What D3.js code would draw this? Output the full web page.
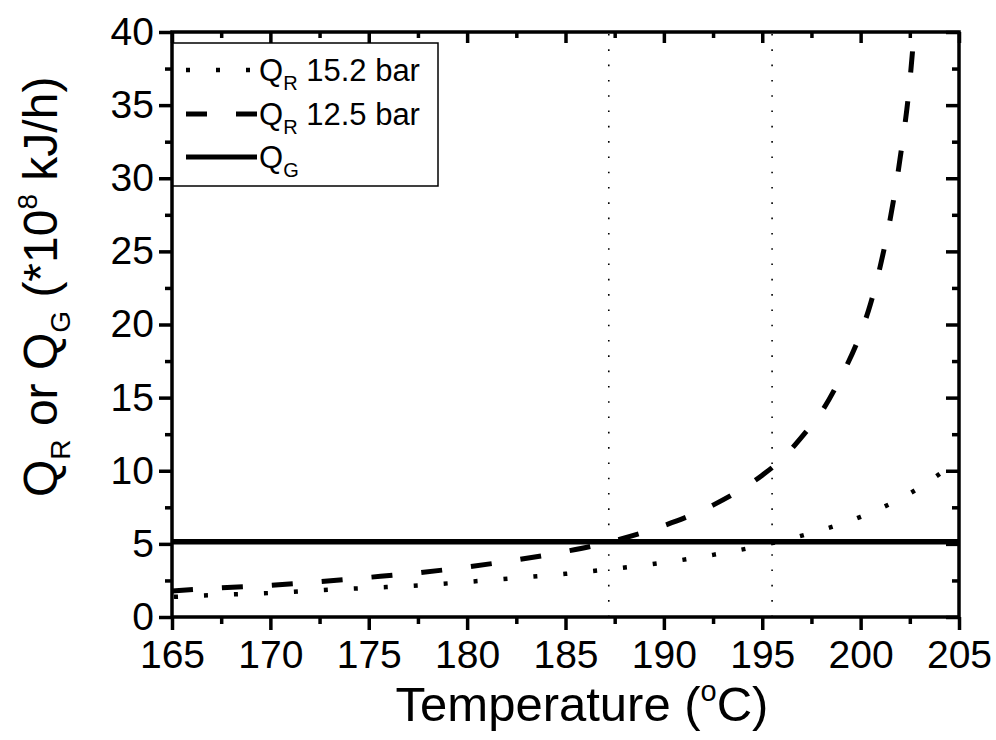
<!DOCTYPE html>
<html>
<head>
<meta charset="utf-8">
<script src="https://cdn.jsdelivr.net/npm/d3@7"></script>
<style>
  html, body { margin: 0; padding: 0; background: #fff; }
  svg { display: block; font-family: "Liberation Sans", Arial, sans-serif; }
</style>
</head>
<body>
<svg id="chart" width="996" height="740"></svg>
<script>
// Heat removal (Q_R) at two pressures and heat generation (Q_G) vs temperature
const tempDomain = [165, 205];
const qDomain = [0, 40];
const xTicks = [165, 170, 175, 180, 185, 190, 195, 200, 205];
const yTicks = [0, 5, 10, 15, 20, 25, 30, 35, 40];

const tempHigh = [165, 167.5, 170, 172.5, 175, 177.5, 180, 182.5, 185, 187.5, 190, 192.5, 195, 197.5, 200, 202.5, 205];
const qrHigh   = [1.37, 1.52, 1.64, 1.83, 1.99, 2.16, 2.40, 2.67, 2.95, 3.31, 3.72, 4.25, 4.90, 5.75, 6.85, 8.45, 10.75];

const tempLow = [165, 167.5, 170, 172.5, 175, 177.5, 180, 182.5, 185, 187.5, 190, 192.5, 195, 196, 197, 198, 199, 200, 200.5, 201, 201.5, 202, 202.5, 202.72];
const qrLow   = [1.78, 2.0, 2.17, 2.42, 2.71, 3.02, 3.42, 3.9, 4.48, 5.22, 6.25, 7.65, 9.7, 10.8, 12.3, 14.0, 16.4, 19.4, 21.4, 24.0, 27.2, 31.3, 36.6, 40];

const qGen = 5.15;
const crossTemps = [187.2, 195.5];

const legendLabels = [
  { main: "Q", sub: "R", rest: " 15.2 bar", dash: "4,26", w: 4.5 },
  { main: "Q", sub: "R", rest: " 12.5 bar", dash: "21,29", w: 5 },
  { main: "Q", sub: "G", rest: "", dash: null, w: 5 }
];

const svg = d3.select("#chart");
const L = 172, R = 959, T = 32, B = 617;

const x = d3.scaleLinear().domain(tempDomain).range([L, R]);
const y = d3.scaleLinear().domain(qDomain).range([B, T]);

const minorX = d3.range(167.5, 205, 5);
const minorY = d3.range(2.5, 40, 5);

svg.append("clipPath").attr("id", "plotclip")
  .append("rect").attr("x", L).attr("y", T).attr("width", R - L).attr("height", B - T);

const plot = svg.append("g").attr("clip-path", "url(#plotclip)");

// vertical markers at the intersection temperatures
plot.selectAll("line.cross").data(crossTemps).enter().append("line")
  .attr("class", "cross")
  .attr("x1", d => x(d)).attr("x2", d => x(d))
  .attr("y1", y(0)).attr("y2", y(40))
  .attr("stroke", "#000").attr("stroke-width", 1.6)
  .attr("stroke-dasharray", "1.6,13.7");

// heat generation line
plot.append("line")
  .attr("x1", x(tempDomain[0])).attr("x2", x(tempDomain[1]))
  .attr("y1", y(qGen)).attr("y2", y(qGen))
  .attr("stroke", "#000").attr("stroke-width", 5.5);

const line = d3.line().x(d => x(d[0])).y(d => y(d[1])).curve(d3.curveMonotoneX);

plot.append("path")
  .datum(tempLow.map((t, i) => [t, qrLow[i]]))
  .attr("d", line)
  .attr("fill", "none").attr("stroke", "#000").attr("stroke-width", 5)
  .attr("stroke-dasharray", "21,29");

plot.append("path")
  .datum(tempHigh.map((t, i) => [t, qrHigh[i]]))
  .attr("d", line)
  .attr("fill", "none").attr("stroke", "#000").attr("stroke-width", 4.5)
  .attr("stroke-dasharray", "4,26").attr("stroke-dashoffset", -2);

// frame and ticks
const axes = svg.append("g");
const frameW = 3.5;

const axisB = d3.axisBottom(x).tickValues(xTicks).tickSize(13).tickPadding(10).tickFormat(d3.format("d"));
axes.append("g").attr("transform", `translate(0,${B})`).call(axisB);
const axisL = d3.axisLeft(y).tickValues(yTicks).tickSize(13).tickPadding(5).tickFormat(d3.format("d"));
axes.append("g").attr("transform", `translate(${L},0)`).call(axisL);
const axisT = d3.axisTop(x).tickValues(xTicks).tickSize(-11).tickFormat("");
axes.append("g").attr("transform", `translate(0,${T})`).call(axisT);
const axisR = d3.axisRight(y).tickValues(yTicks).tickSize(-13).tickFormat("");
axes.append("g").attr("transform", `translate(${R},0)`).call(axisR);

// minor ticks
axes.append("g").attr("transform", `translate(0,${B})`).call(d3.axisBottom(x).tickValues(minorX).tickSize(7).tickFormat(""));
axes.append("g").attr("transform", `translate(0,${T})`).call(d3.axisTop(x).tickValues(minorX).tickSize(-6).tickFormat(""));
axes.append("g").attr("transform", `translate(${L},0)`).call(d3.axisLeft(y).tickValues(minorY).tickSize(7).tickFormat(""));
axes.append("g").attr("transform", `translate(${R},0)`).call(d3.axisRight(y).tickValues(minorY).tickSize(-7).tickFormat(""));

axes.selectAll(".domain").remove();
axes.selectAll(".tick line").attr("stroke", "#000").attr("stroke-width", 3.5);
axes.selectAll(".tick text").attr("fill", "#000").attr("font-size", 39)
  .attr("font-family", "'Liberation Sans', Arial, sans-serif");

axes.append("rect").attr("x", L).attr("y", T).attr("width", R - L).attr("height", B - T)
  .attr("fill", "none").attr("stroke", "#000").attr("stroke-width", frameW);

// legend
const lg = svg.append("g");
lg.append("rect").attr("x", L + 1).attr("y", 43).attr("width", 438 - L - 1).attr("height", 143)
  .attr("fill", "#fff").attr("stroke", "#000").attr("stroke-width", 1.5);
const rowY = [70, 114, 157];
legendLabels.forEach((d, i) => {
  const ln = lg.append("line").attr("x1", 186).attr("x2", 257)
    .attr("y1", rowY[i]).attr("y2", rowY[i])
    .attr("stroke", "#000").attr("stroke-width", d.w);
  if (d.dash) ln.attr("stroke-dasharray", d.dash);
  const t = lg.append("text").attr("x", 259).attr("y", rowY[i] + 11)
    .attr("font-size", 31).attr("fill", "#000");
  t.append("tspan").text(d.main);
  t.append("tspan").attr("font-size", 20).attr("dy", 9).text(d.sub);
  t.append("tspan").attr("dy", -9).text(d.rest);
});

// axis titles
const xt = svg.append("text").attr("x", 582).attr("y", 721)
  .attr("text-anchor", "middle").attr("font-size", 49).attr("fill", "#000");
xt.append("tspan").text("Temperature (");
xt.append("tspan").attr("font-size", 29).attr("dy", -20).text("o");
xt.append("tspan").attr("dy", 20).text("C)");

const yt = svg.append("text").attr("transform", "translate(57,497) rotate(-90)")
  .attr("text-anchor", "start").attr("font-size", 48).attr("fill", "#000");
yt.append("tspan").text("Q");
yt.append("tspan").attr("font-size", 28).attr("dy", 13).text("R");
yt.append("tspan").attr("dy", -13).text(" or Q");
yt.append("tspan").attr("font-size", 28).attr("dy", 13).text("G");
yt.append("tspan").attr("dy", -13).text(" (*10");
yt.append("tspan").attr("font-size", 28).attr("dy", -20).text("8");
yt.append("tspan").attr("dy", 20).text(" kJ/h)");
</script>
</body>
</html>
